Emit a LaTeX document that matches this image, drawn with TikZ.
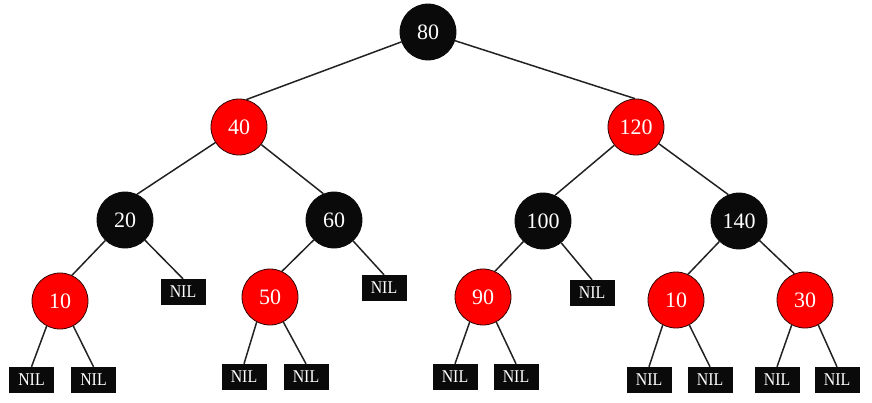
\documentclass[tikz,border=0pt]{standalone}
\usepackage{fontspec}
\setmainfont{Liberation Serif}
\definecolor{rbred}{HTML}{FF0000}
\definecolor{rbblack}{HTML}{0A0A0A}
\definecolor{edgecol}{HTML}{222222}
\begin{document}
\begin{tikzpicture}[x=1pt,y=-1pt,
  rbnode/.style={circle,draw=rbblack,line width=0.8pt,minimum size=56pt,inner sep=0pt,text=white,font=\fontsize{22}{22}\selectfont},
  blk/.style={rbnode,fill=rbblack},
  redn/.style={rbnode,fill=rbred,draw=black!80!red},
  nil/.style={rectangle,fill=rbblack,minimum width=45pt,minimum height=26pt,inner sep=0pt,text=white,font=\fontsize{18}{18}\selectfont},
  edge/.style={draw=edgecol,line width=1.5pt}]
\useasboundingbox (0,0) rectangle (872,402);
% nodes
\node[blk] (n80) at (428,32) {80};
\node[redn] (n40) at (239,127) {40};
\node[redn] (n120) at (636,127) {120};
\node[blk] (n20) at (125,220) {20};
\node[blk] (n60) at (334,220) {60};
\node[blk] (n100) at (543,221) {100};
\node[blk] (n140) at (739,221) {140};
\node[redn] (n10a) at (60,301) {10};
\node[redn] (n50) at (270,297) {50};
\node[redn] (n90) at (483,297) {90};
\node[redn] (n10b) at (676,300) {10};
\node[redn] (n30) at (805,300) {30};
\node[nil] (nA) at (183,292) {\scalebox{0.88}[1]{NIL}};
\node[nil] (nB) at (384,288) {\scalebox{0.88}[1]{NIL}};
\node[nil] (nC) at (592,293) {\scalebox{0.88}[1]{NIL}};
\node[nil] (b1) at (31.5,380) {\scalebox{0.88}[1]{NIL}};
\node[nil] (b2) at (93.5,380) {\scalebox{0.88}[1]{NIL}};
\node[nil] (b3) at (244,377) {\scalebox{0.88}[1]{NIL}};
\node[nil] (b4) at (306,377) {\scalebox{0.88}[1]{NIL}};
\node[nil] (b5) at (455,377) {\scalebox{0.88}[1]{NIL}};
\node[nil] (b6) at (516,377) {\scalebox{0.88}[1]{NIL}};
\node[nil] (b7) at (649,380) {\scalebox{0.88}[1]{NIL}};
\node[nil] (b8) at (710,380) {\scalebox{0.88}[1]{NIL}};
\node[nil] (b9) at (777,380) {\scalebox{0.88}[1]{NIL}};
\node[nil] (b10) at (837,380) {\scalebox{0.88}[1]{NIL}};
% edges
\draw[edge] (n80) -- (n40.75);
\draw[edge] (n80) -- (n120.92);
\draw[edge] (n40) -- (n20.65);
\draw[edge] (n40) -- (n60.112);
\draw[edge] (n120) -- (n100.65);
\draw[edge] (n120) -- (n140.112);
\draw[edge] (n20) -- (n10a.65);
\draw[edge] (n20) -- (nA.north);
\draw[edge] (n60) -- (n50.65);
\draw[edge] (n60) -- (nB.north);
\draw[edge] (n100) -- (n90.65);
\draw[edge] (n100) -- (nC.north);
\draw[edge] (n140) -- (n10b.65);
\draw[edge] (n140) -- (n30.112);
\draw[edge] (n10a.-118) -- (b1.north);
\draw[edge] (n10a.-62) -- (b2.north);
\draw[edge] (n50.-118) -- (b3.north);
\draw[edge] (n50.-62) -- (b4.north);
\draw[edge] (n90.-118) -- (b5.north);
\draw[edge] (n90.-62) -- (b6.north);
\draw[edge] (n10b.-118) -- (b7.north);
\draw[edge] (n10b.-62) -- (b8.north);
\draw[edge] (n30.-118) -- (b9.north);
\draw[edge] (n30.-62) -- (b10.north);
\end{tikzpicture}
\end{document}
